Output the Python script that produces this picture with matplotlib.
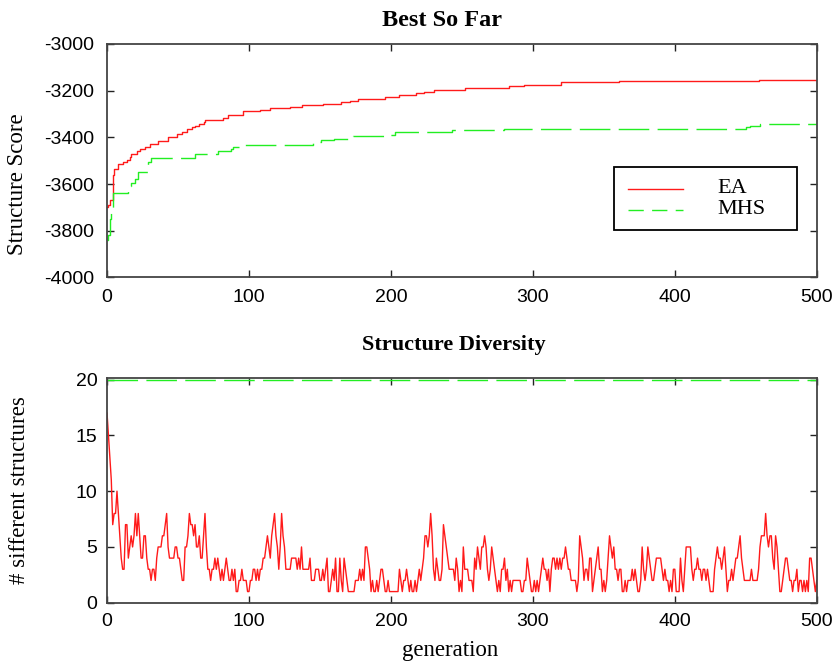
import numpy as np
import matplotlib
matplotlib.use('Agg')
from matplotlib import pyplot as plt
from matplotlib.patches import Rectangle
from matplotlib.lines import Line2D

plt.rcParams['lines.scale_dashes'] = False
plt.rcParams['axes.unicode_minus'] = False

# best-so-far structure score (step changes: generation, score)
ea_gen = [0, 1, 2, 4, 5, 8, 11, 14, 16, 17, 21, 23, 27, 30, 36, 43, 49, 53, 56, 60, 62, 65,
          68, 69, 82, 85, 96, 108, 115, 129, 137, 152, 165, 171, 177, 196, 206, 218, 223,
          230, 252, 283, 294, 320, 361, 459, 500]
ea_score = [-3700, -3690, -3670, -3560, -3535, -3515, -3505, -3495, -3483, -3470, -3460,
            -3450, -3440, -3430, -3415, -3400, -3387, -3376, -3365, -3355, -3350, -3343,
            -3333, -3325, -3318, -3305, -3288, -3281, -3274, -3270, -3261, -3257, -3250,
            -3243, -3236, -3229, -3220, -3211, -3205, -3196, -3188, -3182, -3176, -3165,
            -3160, -3156, -3156]

mhs_gen = [0, 1, 2, 3, 4, 15, 17, 20, 22, 29, 31, 62, 78, 87, 89, 96, 145, 151, 160, 170,
           173, 197, 203, 243, 280, 450, 453, 460, 500]
mhs_score = [-3840, -3820, -3750, -3710, -3640, -3610, -3595, -3580, -3550, -3507, -3490,
             -3470, -3460, -3450, -3440, -3433, -3421, -3411, -3407, -3400, -3396, -3390,
             -3378, -3370, -3364, -3355, -3350, -3343, -3343]

# number of different structures per generation (EA), generations 0..500
ea_div = [
    17, 15, 13, 11, 7, 8, 8, 10, 8, 6, 4, 3, 3, 7, 7, 4, 5, 6, 5, 6,
    8, 6, 8, 6, 4, 4, 6, 6, 4, 3, 3, 2, 3, 3, 2, 4, 5, 5, 5, 6,
    6, 7, 8, 5, 4, 4, 4, 4, 5, 5, 4, 4, 3, 2, 2, 5, 5, 6, 8, 7,
    7, 6, 7, 5, 5, 6, 4, 4, 6, 8, 5, 3, 3, 2, 3, 3, 4, 3, 4, 3,
    2, 3, 2, 3, 4, 3, 2, 2, 3, 2, 3, 1, 1, 2, 2, 3, 2, 2, 2, 1,
    1, 2, 2, 3, 3, 2, 3, 2, 3, 3, 4, 4, 5, 6, 5, 4, 6, 7, 8, 6,
    5, 3, 5, 8, 6, 5, 3, 3, 3, 3, 4, 4, 4, 4, 3, 4, 3, 5, 3, 3,
    3, 3, 3, 4, 2, 2, 2, 3, 3, 3, 2, 2, 3, 2, 3, 4, 1, 1, 2, 3,
    2, 4, 1, 1, 4, 2, 1, 4, 3, 2, 1, 1, 1, 1, 1, 2, 2, 2, 3, 2,
    3, 2, 5, 5, 4, 3, 1, 2, 1, 1, 2, 1, 2, 3, 3, 2, 1, 1, 2, 1,
    1, 1, 1, 1, 1, 1, 3, 2, 1, 2, 2, 3, 2, 1, 2, 1, 1, 2, 1, 2,
    3, 2, 3, 4, 6, 6, 5, 6, 8, 6, 3, 2, 4, 3, 2, 2, 3, 7, 6, 5,
    4, 3, 3, 3, 3, 2, 4, 3, 1, 2, 1, 5, 3, 3, 3, 2, 2, 2, 1, 4,
    3, 5, 4, 3, 5, 5, 6, 5, 3, 2, 3, 5, 4, 3, 2, 1, 2, 1, 3, 3,
    4, 2, 3, 1, 2, 1, 2, 2, 2, 2, 2, 2, 1, 1, 2, 2, 4, 3, 2, 1,
    1, 2, 1, 2, 1, 2, 3, 4, 3, 3, 2, 3, 1, 3, 4, 4, 3, 4, 3, 4,
    3, 4, 4, 5, 4, 3, 3, 2, 2, 2, 2, 1, 2, 6, 5, 4, 2, 3, 3, 2,
    4, 4, 1, 2, 3, 4, 5, 3, 3, 1, 2, 1, 2, 4, 6, 5, 4, 5, 3, 3,
    2, 3, 3, 1, 1, 2, 1, 2, 2, 2, 3, 2, 3, 2, 1, 1, 2, 5, 3, 2,
    3, 5, 4, 3, 2, 2, 3, 4, 4, 4, 4, 3, 2, 3, 2, 2, 1, 2, 1, 3,
    3, 1, 1, 1, 4, 2, 1, 3, 5, 5, 5, 5, 3, 2, 3, 3, 4, 3, 3, 2,
    3, 3, 2, 3, 2, 1, 1, 1, 3, 4, 5, 4, 4, 3, 4, 5, 3, 1, 2, 2,
    3, 2, 3, 4, 4, 5, 6, 4, 3, 2, 2, 2, 2, 2, 3, 2, 2, 2, 2, 3,
    5, 6, 6, 6, 8, 6, 5, 6, 6, 4, 3, 6, 5, 3, 1, 1, 2, 3, 4, 4,
    3, 2, 2, 1, 2, 2, 3, 1, 2, 2, 1, 2, 1, 2, 1, 4, 4, 3, 2, 1,
    2]
mhs_div_gen = [0, 500]
mhs_div = [20, 20]

red = '#ff1a1a'
green = '#22ee22'
serif = 'Liberation Serif'
sans = 'Liberation Sans'
dash = (22, 6)

fig = plt.figure(figsize=(8.33, 6.66), dpi=100)
ax1 = fig.add_axes([0.1285, 0.5835, 0.852, 0.3505])
ax2 = fig.add_axes([0.1285, 0.095, 0.852, 0.3375])

# top: best so far
ax1.step(ea_gen, ea_score, where='post', color=red, lw=1.0)
ax1.step(mhs_gen, mhs_score, where='post', color=green, lw=1.0, dashes=dash)
ax1.set_xlim(0, 500)
ax1.set_ylim(-4000, -3000)
ax1.set_yticks(np.arange(-4000, -2999, 200))
ax1.set_title('Best So Far', fontfamily=serif, fontweight='bold', fontsize=17.5, pad=13,
              x=0.472)
ax1.set_ylabel('Structure Score', fontfamily=serif, fontsize=16.5)
ax1.yaxis.set_label_coords(-0.111, 0.40)

# key box, drawn the gnuplot way
ax1.add_patch(Rectangle((0.7145, 0.2034), 0.2574, 0.2698, transform=ax1.transAxes,
                        facecolor='white', edgecolor='black', lw=1.3, zorder=5))
ax1.add_line(Line2D([0.734, 0.8115], [0.379, 0.379], transform=ax1.transAxes,
                    color=red, lw=1.0, zorder=6))
ax1.add_line(Line2D([0.734, 0.8115], [0.289, 0.289], transform=ax1.transAxes,
                    color=green, lw=1.0, dashes=(11, 6), zorder=6))
ax1.text(0.8594, 0.379, 'EA', transform=ax1.transAxes, fontfamily=serif, fontsize=16,
         va='center', ha='left', zorder=6)
ax1.text(0.8594, 0.289, 'MHS', transform=ax1.transAxes, fontfamily=serif, fontsize=16,
         va='center', ha='left', zorder=6)

# bottom: structure diversity
gens = np.arange(len(ea_div))
ax2.plot(gens, ea_div, color=red, lw=1.0)
ax2.plot(mhs_div_gen, mhs_div, color=green, lw=1.0, dashes=dash)
ax2.set_xlim(0, 500)
ax2.set_ylim(0, 20.15)
ax2.set_yticks([0, 5, 10, 15, 20])
ax2.set_title('Structure Diversity', fontfamily=serif, fontweight='bold', fontsize=16, pad=20,
              x=0.488)
ax2.set_ylabel('# sifferent structures', fontfamily=serif, fontsize=16.5)
ax2.yaxis.set_label_coords(-0.108, 0.5)
ax2.set_xlabel('generation', fontfamily=serif, fontsize=16.5, labelpad=8)
ax2.xaxis.set_label_coords(0.484, -0.165)

for ax, ypad, xpad in ((ax1, 9, 8.5), (ax2, 7, 7.5)):
    ax.set_xticks(np.arange(0, 501, 100))
    ax.tick_params(direction='in', top=True, right=True, length=5, width=1.0,
                   colors='#222222', labelsize=14)
    ax.tick_params(axis='y', pad=ypad)
    ax.tick_params(axis='x', pad=xpad)
    for lab in ax.get_xticklabels() + ax.get_yticklabels():
        lab.set_fontfamily(sans)
        lab.set_color('black')
    for sp in ax.spines.values():
        sp.set_linewidth(1.3)
        sp.set_color('#444444')

fig.savefig('out.png', dpi=100)
